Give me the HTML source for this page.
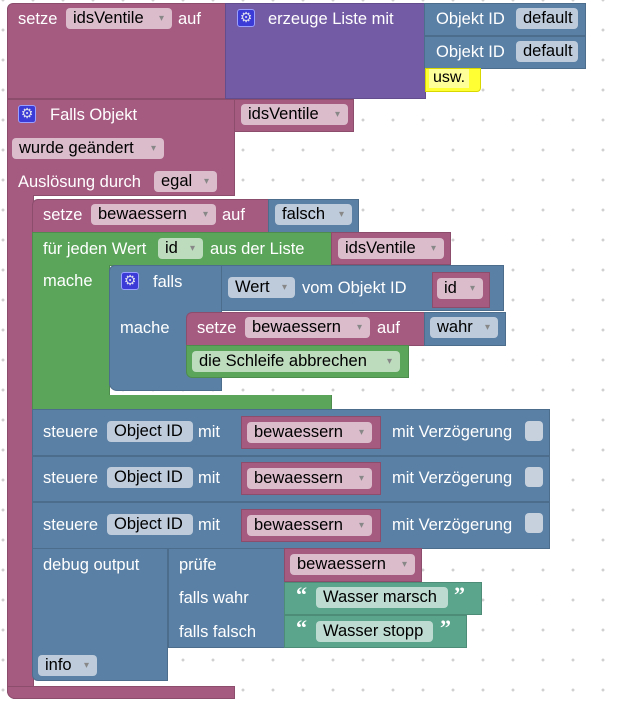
<!DOCTYPE html>
<html><head><meta charset="utf-8"><style>
body{margin:0;width:626px;height:708px;overflow:hidden;background:#fff;
background-image:radial-gradient(circle,#d0d0d0 1.3px,transparent 1.6px);background-size:30px 30px;background-position:-12px -15px;
font-family:"Liberation Sans",sans-serif;font-size:16.5px;position:relative}
div{position:absolute;box-sizing:border-box}
.p{background:#a55b80;border:1px solid #8c4d6d}
.pu{background:#745ba5;border:1px solid #634d8c}
.b{background:#5b80a5;border:1px solid #4d6d8c}
.g{background:#5ba55b;border:1px solid #4d8c4d}
.t{background:#5ba58c;border:1px solid #4d8c77}
.y{background:#ffff33;border:1px solid #d8d800}
.tx{color:#fff;white-space:nowrap;line-height:22px}
.f{border-radius:4px;color:#000;white-space:nowrap;line-height:21px;padding-left:7px;height:21px}
.fp{background:#dbbccb}.fb{background:#bdcbdb}.fg{background:#bddbbd}.ft{background:#bddbd1}
.dd:after{content:"▾";font-size:10px;color:#888;position:absolute;right:8px;top:0}
.gear{width:18px;height:18px;background:#3b3bd8;border:1px solid #9aa0ff;border-radius:3px;color:#dde;font-size:14px;line-height:16px;text-align:center;font-family:"DejaVu Sans",sans-serif}
.ck{background:#c7d1de;border-radius:4px;width:18px;height:20px}
.q{font-weight:bold;font-size:22px;font-family:'Liberation Serif',serif;color:#fff}
</style></head><body>
<div class="p" style="left:7px;top:3px;width:220px;height:96px;border-radius:6px 0 0 0"></div>
<div class="tx" style="left:18px;top:8px">setze</div>
<div class="f fp dd" style="left:66px;top:8px;width:106px">idsVentile</div>
<div class="tx" style="left:178px;top:8px">auf</div>
<div class="pu" style="left:225px;top:3px;width:201px;height:96px"></div>
<div class="gear" style="left:237px;top:9px">⚙</div>
<div class="tx" style="left:268px;top:8px">erzeuge Liste mit</div>
<div class="b" style="left:424px;top:3px;width:162px;height:33px"></div>
<div class="tx" style="left:436px;top:8px">Objekt ID</div>
<div class="f fb" style="left:516px;top:8px;width:62px">default</div>
<div class="b" style="left:424px;top:36px;width:162px;height:33px"></div>
<div class="tx" style="left:436px;top:41px">Objekt ID</div>
<div class="f fb" style="left:516px;top:41px;width:62px">default</div>
<div class="y" style="left:425px;top:68px;width:56px;height:24px;border-radius:0 0 4px 0"></div>
<div style="left:429px;top:69px;width:40px;height:19px;background:#ffff99;font-size:16px;line-height:17px;padding-left:4px">usw.</div>
<div class="p" style="left:7px;top:99px;width:228px;height:97px"></div>
<div class="p" style="left:7px;top:195px;width:27px;height:504px;border-radius:0 0 0 8px;border-top:none"></div>
<div class="p" style="left:7px;top:686px;width:228px;height:13px;border-radius:0 0 0 8px"></div>
<div class="gear" style="left:18px;top:105px">⚙</div>
<div class="tx" style="left:50px;top:104px">Falls Objekt</div>
<div class="p" style="left:234px;top:99px;width:120px;height:33px"></div>
<div class="f fp dd" style="left:241px;top:104px;width:107px">idsVentile</div>
<div class="f fp dd" style="left:12px;top:138px;width:152px">wurde geändert</div>
<div class="tx" style="left:18px;top:171px">Auslösung durch</div>
<div class="f fp dd" style="left:154px;top:171px;width:63px">egal</div>
<div class="p" style="left:32px;top:199px;width:237px;height:34px;border-radius:6px 0 0 0"></div>
<div class="tx" style="left:43px;top:204px">setze</div>
<div class="f fp dd" style="left:91px;top:204px;width:125px">bewaessern</div>
<div class="tx" style="left:222px;top:204px">auf</div>
<div class="b" style="left:268px;top:199px;width:91px;height:34px"></div>
<div class="f fb dd" style="left:275px;top:204px;width:77px">falsch</div>
<div class="g" style="left:32px;top:232px;width:300px;height:34px"></div>
<div class="g" style="left:32px;top:265px;width:78px;height:145px;border-top:none;border-bottom:none"></div>
<div class="g" style="left:32px;top:395px;width:300px;height:15px;border-top:none"></div>
<div class="tx" style="left:43px;top:238px">für jeden Wert</div>
<div class="f fg dd" style="left:158px;top:238px;width:45px">id</div>
<div class="tx" style="left:210px;top:238px">aus der Liste</div>
<div class="p" style="left:331px;top:232px;width:120px;height:33px"></div>
<div class="f fp dd" style="left:338px;top:238px;width:106px">idsVentile</div>
<div class="tx" style="left:43px;top:270px">mache</div>
<div class="b" style="left:109px;top:265px;width:113px;height:126px;border-radius:6px 0 0 8px"></div>
<div class="gear" style="left:121px;top:272px">⚙</div>
<div class="tx" style="left:153px;top:271px">falls</div>
<div class="tx" style="left:120px;top:317px">mache</div>
<div class="b" style="left:221px;top:265px;width:283px;height:46px"></div>
<div class="f fb dd" style="left:228px;top:277px;width:67px">Wert</div>
<div class="tx" style="left:302px;top:277px">vom Objekt ID</div>
<div class="p" style="left:432px;top:272px;width:58px;height:36px"></div>
<div class="f fp dd" style="left:437px;top:278px;width:46px">id</div>
<div class="p" style="left:186px;top:312px;width:239px;height:34px;border-radius:6px 0 0 0"></div>
<div class="tx" style="left:197px;top:317px">setze</div>
<div class="f fp dd" style="left:245px;top:317px;width:125px">bewaessern</div>
<div class="tx" style="left:377px;top:317px">auf</div>
<div class="b" style="left:424px;top:312px;width:82px;height:34px"></div>
<div class="f fb dd" style="left:430px;top:317px;width:68px">wahr</div>
<div class="g" style="left:186px;top:345px;width:223px;height:33px;border-radius:0 0 0 6px"></div>
<div class="f fg dd" style="left:192px;top:351px;width:208px">die Schleife abbrechen</div>
<div class="b" style="left:32px;top:409px;width:518px;height:47px"></div>
<div class="b" style="left:32px;top:456px;width:518px;height:46px"></div>
<div class="b" style="left:32px;top:502px;width:518px;height:47px"></div>
<div class="tx" style="left:43px;top:421px">steuere</div>
<div class="f fb" style="left:107px;top:421px;width:86px">Object ID</div>
<div class="tx" style="left:198px;top:421px">mit</div>
<div class="p" style="left:241px;top:416px;width:140px;height:33px"></div>
<div class="f fp dd" style="left:247px;top:422px;width:125px">bewaessern</div>
<div class="tx" style="left:392px;top:421px">mit Verzögerung</div>
<div class="ck" style="left:525px;top:421px"></div>
<div class="tx" style="left:43px;top:467px">steuere</div>
<div class="f fb" style="left:107px;top:467px;width:86px">Object ID</div>
<div class="tx" style="left:198px;top:467px">mit</div>
<div class="p" style="left:241px;top:462px;width:140px;height:33px"></div>
<div class="f fp dd" style="left:247px;top:468px;width:125px">bewaessern</div>
<div class="tx" style="left:392px;top:467px">mit Verzögerung</div>
<div class="ck" style="left:525px;top:467px"></div>
<div class="tx" style="left:43px;top:514px">steuere</div>
<div class="f fb" style="left:107px;top:514px;width:86px">Object ID</div>
<div class="tx" style="left:198px;top:514px">mit</div>
<div class="p" style="left:241px;top:509px;width:140px;height:33px"></div>
<div class="f fp dd" style="left:247px;top:515px;width:125px">bewaessern</div>
<div class="tx" style="left:392px;top:514px">mit Verzögerung</div>
<div class="ck" style="left:525px;top:513px"></div>
<div class="b" style="left:32px;top:548px;width:136px;height:133px;border-radius:0 0 0 6px"></div>
<div class="tx" style="left:43px;top:554px">debug output</div>
<div class="f fb dd" style="left:38px;top:655px;width:59px">info</div>
<div class="b" style="left:168px;top:548px;width:117px;height:100px"></div>
<div class="tx" style="left:179px;top:554px">prüfe</div>
<div class="tx" style="left:179px;top:587px">falls wahr</div>
<div class="tx" style="left:179px;top:621px">falls falsch</div>
<div class="p" style="left:284px;top:548px;width:138px;height:34px"></div>
<div class="f fp dd" style="left:290px;top:554px;width:125px">bewaessern</div>
<div class="t" style="left:284px;top:582px;width:198px;height:33px"></div>
<div class="tx q" style="left:296px;top:584px">“</div>
<div class="f ft" style="left:316px;top:587px;width:132px">Wasser marsch</div>
<div class="tx q" style="left:454px;top:584px">”</div>
<div class="t" style="left:284px;top:615px;width:183px;height:33px"></div>
<div class="tx q" style="left:296px;top:617px">“</div>
<div class="f ft" style="left:316px;top:621px;width:117px">Wasser stopp</div>
<div class="tx q" style="left:440px;top:617px">”</div>
</body></html>
